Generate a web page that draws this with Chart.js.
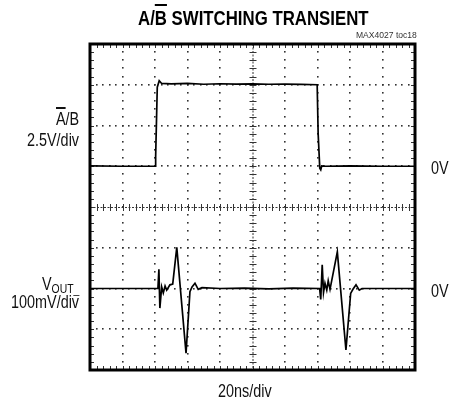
<!DOCTYPE html>
<html>
<head>
<meta charset="utf-8">
<script src="https://cdn.jsdelivr.net/npm/chart.js@4/dist/chart.umd.min.js"></script>
<style>
  html, body { margin:0; padding:0; background:#fff; }
  body { width:460px; height:404px; position:relative; overflow:hidden; }
  #c { position:absolute; left:0; top:0; }
  .lbl { position:absolute; white-space:nowrap; line-height:1; color:#111;
         font-family:"Liberation Sans",Arial,sans-serif; transform-origin:0 0; }
  .ov { text-decoration: overline; text-decoration-thickness: 1.5px; }
</style>
</head>
<body>
<canvas id="c" width="460" height="404"></canvas>
<script>
// ---- data (time in ns, 20 ns/div) ----
const abTime  = [0, 20, 40, 40.4, 41.4, 42.6, 44.1, 50, 60, 70, 80, 90, 100, 110, 120, 130, 139.8, 140.4, 141.4, 142.0, 142.6, 145, 160, 180, 200];
const abVolts = [0.02, 0.0, 0.0, 0.6, 4.85, 5.25, 5.08, 5.05, 5.08, 5.03, 5.06, 5.04, 5.05, 5.03, 5.04, 5.02, 5.0, 2.0, -0.12, -0.22, 0.02, 0.0, 0.02, 0.0, 0.0];

const voutTime = [0, 20, 41.8, 42.4, 43.0, 44.1, 45.1, 46.2, 47.2, 49.2, 50.9, 53.4, 59.1, 61.5, 62.8, 64.6, 66.6, 68.9, 80, 95, 110, 125, 141.3, 142.0, 142.9, 143.7, 144.6, 145.7, 146.6, 147.7, 152.2, 157.5, 160.4, 161.8, 163.7, 165.7, 167.4, 180, 200];
const voutMilli = [0, 0, 0, 47, -48, 4, -11, 6, -4, 9, 11, 101, -159, -8, 4, 13, -2, 2, 0, 1, -1, 1, 0, -27, 58, -10, 13, -4, 19, -2, 90, -151, -12, -2, 9, -4, 0, 0, 0];

// scope settings
const timeDivs = 10, nsPerDiv = 20;
const abVoltsPerDiv = 2.5, abZeroDivFromBottom = 5;
const voutMilliPerDiv = 100, voutZeroDivFromBottom = 2;
const vertDivs = 8;

const abData = abTime.map((t, i) => ({x: t, y: abVolts[i]}));
const voutData = voutTime.map((t, i) => ({x: t, y: voutMilli[i]}));

const scopeGrid = {
  id: 'scopeGrid',
  beforeDatasetsDraw(chart) {
    const ctx = chart.ctx, xs = chart.scales.x, ys = chart.scales.yab;
    const a = chart.chartArea;
    const xMin = 0, xMax = timeDivs * nsPerDiv;
    const yMin = -abZeroDivFromBottom * abVoltsPerDiv, yMax = yMin + vertDivs * abVoltsPerDiv;
    const xMinor = nsPerDiv / 5, yMinor = abVoltsPerDiv / 5;
    const xc = (xMin + xMax) / 2, yc = (yMin + yMax) / 2;
    ctx.save();
    ctx.fillStyle = '#333';
    const dot = (px, py) => ctx.fillRect(Math.round(px) - 1, Math.round(py) - 1, 1.6, 1.6);
    for (let v = xMin + nsPerDiv; v < xMax - 0.01; v += nsPerDiv) {
      if (Math.abs(v - xc) < 0.01) continue;
      const px = xs.getPixelForValue(v);
      for (let w = yMin + yMinor; w < yMax - 0.01; w += yMinor) dot(px, ys.getPixelForValue(w));
    }
    for (let w = yMin + abVoltsPerDiv; w < yMax - 0.01; w += abVoltsPerDiv) {
      if (Math.abs(w - yc) < 0.01) continue;
      const py = ys.getPixelForValue(w);
      for (let v = xMin + xMinor; v < xMax - 0.01; v += xMinor) dot(xs.getPixelForValue(v), py);
    }
    const cx = xs.getPixelForValue(xc), cy = ys.getPixelForValue(yc);
    ctx.strokeStyle = '#333';
    ctx.lineWidth = 1;
    ctx.setLineDash([2, 1.5]);
    ctx.beginPath();
    ctx.moveTo(cx + 0.5, a.top); ctx.lineTo(cx + 0.5, a.bottom);
    ctx.moveTo(a.left, cy + 0.5); ctx.lineTo(a.right, cy + 0.5);
    ctx.stroke();
    ctx.setLineDash([]);
    ctx.beginPath();
    for (let w = yMin + yMinor; w < yMax - 0.01; w += yMinor) {
      const py = Math.round(ys.getPixelForValue(w)) + 0.5;
      ctx.moveTo(cx - 3, py); ctx.lineTo(cx + 4, py);
    }
    for (let v = xMin + xMinor; v < xMax - 0.01; v += xMinor) {
      const px = Math.round(xs.getPixelForValue(v)) + 0.5;
      ctx.moveTo(px, cy - 3); ctx.lineTo(px, cy + 4);
    }
    for (let w = yMin + yMinor; w < yMax - 0.01; w += yMinor) {
      const py = Math.round(ys.getPixelForValue(w)) + 0.5;
      ctx.moveTo(a.left, py); ctx.lineTo(a.left + 4, py);
      ctx.moveTo(a.right, py); ctx.lineTo(a.right - 4, py);
    }
    for (let v = xMin + xMinor; v < xMax - 0.01; v += xMinor) {
      const px = Math.round(xs.getPixelForValue(v)) + 0.5;
      ctx.moveTo(px, a.top); ctx.lineTo(px, a.top + 4);
      ctx.moveTo(px, a.bottom); ctx.lineTo(px, a.bottom - 4);
    }
    ctx.stroke();
    ctx.restore();
  },
  afterDatasetsDraw(chart) {
    const ctx = chart.ctx, a = chart.chartArea;
    ctx.save();
    ctx.strokeStyle = '#000';
    ctx.lineWidth = 3;
    ctx.strokeRect(a.left, a.top, a.right - a.left, a.bottom - a.top);
    ctx.restore();
  }
};

new Chart(document.getElementById('c'), {
  type: 'line',
  data: {
    datasets: [
      { label: 'A/B', data: abData, yAxisID: 'yab', borderColor: '#000', borderWidth: 1.7, pointRadius: 0, tension: 0, fill: false },
      { label: 'VOUT', data: voutData, yAxisID: 'yout', borderColor: '#000', borderWidth: 1.7, pointRadius: 0, tension: 0, fill: false }
    ]
  },
  options: {
    responsive: false,
    animation: false,
    devicePixelRatio: 1,
    layout: { padding: { left: 90, top: 44, right: 45, bottom: 34 } },
    plugins: { legend: { display: false }, tooltip: { enabled: false }, title: { display: false } },
    scales: {
      x: { type: 'linear', min: 0, max: timeDivs * nsPerDiv, display: false },
      yab: { type: 'linear', min: -abZeroDivFromBottom * abVoltsPerDiv, max: (vertDivs - abZeroDivFromBottom) * abVoltsPerDiv, display: false },
      yout: { type: 'linear', min: -voutZeroDivFromBottom * voutMilliPerDiv, max: (vertDivs - voutZeroDivFromBottom) * voutMilliPerDiv, display: false }
    }
  },
  plugins: [scopeGrid]
});

// ---- text labels ----
function place(html, x, baseline, align, style, sx) {
  const el = document.createElement('div');
  el.className = 'lbl';
  el.innerHTML = html;
  if (style) Object.assign(el.style, style);
  el.style.transform = 'scaleX(' + (sx || 0.8) + ')';
  const m = document.createElement('span');
  m.style.cssText = 'display:inline-block;width:0;height:0;vertical-align:baseline;';
  el.appendChild(m);
  el.style.left = '0px'; el.style.top = '0px';
  document.body.appendChild(el);
  const b = m.offsetTop;
  const w = el.getBoundingClientRect().width;
  const left = align === 'right' ? x - w : align === 'center' ? x - w / 2 : x;
  el.style.left = left + 'px';
  el.style.top = (baseline - b) + 'px';
}
place('A/<span class="ov" style="text-decoration-thickness:2px">B</span> SWITCHING TRANSIENT', 253, 25, 'center', { fontSize: '21px', fontWeight: 'bold', color: '#000' }, 0.8);
place('MAX4027 toc18', 416.5, 37.5, 'right', { fontSize: '9.5px', color: '#333' }, 0.9);
place('<span class="ov">A</span>/B', 79, 125, 'right', { fontSize: '18px' });
place('2.5V/div', 79, 146, 'right', { fontSize: '18px' });
place('V<span style="font-size:13px;vertical-align:-3px">OUT_</span>', 79, 290, 'right', { fontSize: '18px' });
place('100mV/div', 79, 308, 'right', { fontSize: '18px' });
place('0V', 431, 174, 'left', { fontSize: '18px' });
place('0V', 431, 296.5, 'left', { fontSize: '18px' });
place('20ns/div', 245, 397, 'center', { fontSize: '18px' });
</script>
</body>
</html>
